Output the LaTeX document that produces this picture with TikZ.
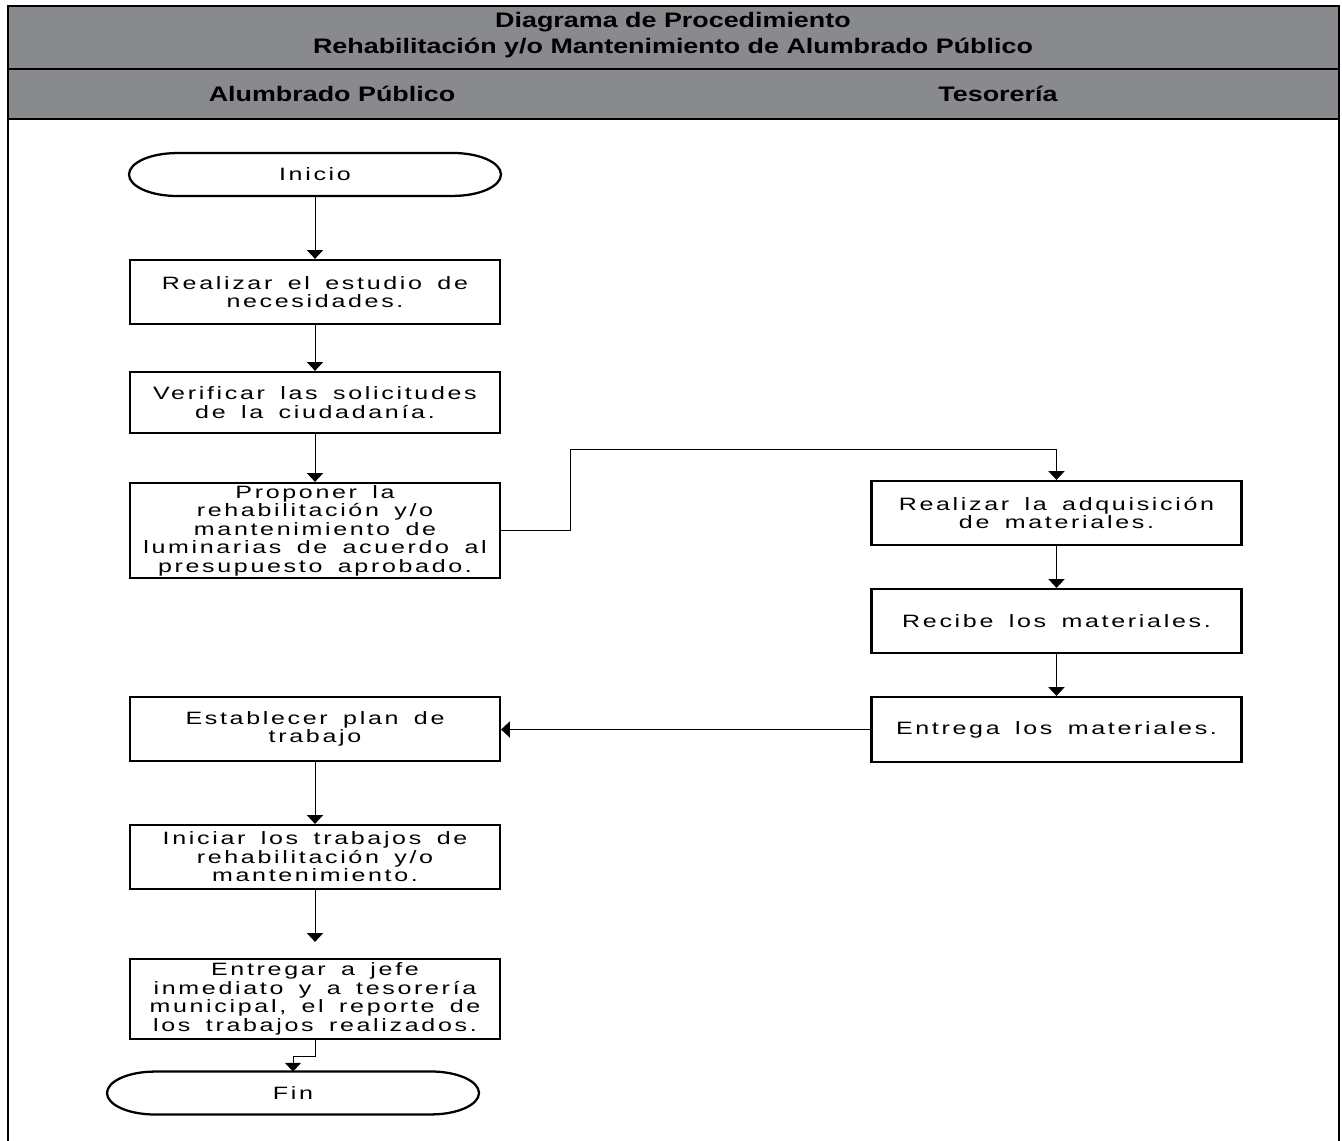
\documentclass[tikz,border=0pt]{standalone}
\usepackage{fontspec}
\setmainfont{Liberation Sans}
\newfontfamily\headfont[FakeStretch=1.28]{Liberation Sans}
\newfontfamily\boxfont[FakeStretch=1.4,LetterSpace=15,WordSpace=1.6]{Liberation Sans}
\usetikzlibrary{arrows.meta, positioning, calc}
\definecolor{headgray}{RGB}{137,138,141}

% start/end shape with flat sides and oval ends
\newcommand{\drawterminal}[1]{%
  \draw[line width=1.7pt] ($(#1.north west)+(36pt,0)$) -- ($(#1.north east)+(-36pt,0)$)
    arc[start angle=90, end angle=-90, x radius=36pt, y radius=16.1pt]
    -- ($(#1.south west)+(36pt,0)$)
    arc[start angle=270, end angle=90, x radius=36pt, y radius=16.1pt] -- cycle;}

\begin{document}
\begin{tikzpicture}[x=0.75pt, y=0.75pt,
  box/.style={draw, line width=1.7pt, minimum width=277.5pt, inner sep=0pt, align=center,
    font=\boxfont\fontsize{13.4}{13.9}\selectfont},
  terminal/.style={minimum width=279pt, minimum height=32.25pt, inner sep=0pt, outer sep=0pt,
    font=\boxfont\fontsize{13.4}{13.9}\selectfont},
  flow/.style={line width=0.75pt, -{Triangle[width=12pt,length=6.5pt]}},
  headtext/.style={font=\headfont\bfseries\fontsize{15.75}{19.5}\selectfont, align=center}]

  \useasboundingbox (0,0) rectangle (1342,-1141);

  % Header bands and frame
  \fill[headgray] (7.5,-6) rectangle (1339,-119);
  \draw[line width=1.5pt] (7.5,-1145) -- (7.5,-6) -- (1339,-6) -- (1339,-1145);
  \draw[line width=1.5pt] (7.5,-69) -- (1339,-69);
  \draw[line width=1.5pt] (7.5,-119) -- (1339,-119);
  \node[headtext] (title) at (673,-35) {Diagrama de Procedimiento\\Rehabilitación y/o Mantenimiento de Alumbrado Público};
  \node[headtext] (lane1) at (332,-94) {Alumbrado Público};
  \node[headtext] (lane2) at (998,-94) {Tesorería};

  % Alumbrado Publico
  \node[terminal] (inicio) at (315,-174.5) {Inicio};
  \drawterminal{inicio}
  \node[box, minimum height=48pt] (estudio) at (315,-292) {Realizar el estudio de\\necesidades.};
  \node[box, minimum height=45.75pt] (verificar) at (315,-402.5) {Verificar las solicitudes\\de la ciudadanía.};
  \node[box, minimum height=71.25pt] (proponer) at (315,-530.5) {Proponer la\\rehabilitación y/o\\mantenimiento de\\luminarias de acuerdo al\\presupuesto aprobado.};
  \node[box, minimum height=48pt] (plan) at (315,-729) {Establecer plan de\\trabajo};
  \node[box, minimum height=48pt] (iniciar) at (315,-857) {Iniciar los trabajos de\\rehabilitación y/o\\mantenimiento.};
  \node[box, minimum height=60pt] (reporte) at (315,-999) {Entregar a jefe\\inmediato y a tesorería\\municipal, el reporte de\\los trabajos realizados.};
  \node[terminal] (fin) at (293,-1093) {Fin};
  \drawterminal{fin}

  % Tesoreria
  \node[box, minimum height=48pt] (adquisicion) at (1056.5,-513) {Realizar la adquisición\\de materiales.};
  \node[box, minimum height=48pt] (recibe) at (1056.5,-621) {Recibe los materiales.};
  \node[box, minimum height=48.75pt] (entrega) at (1056.5,-729.5) {Entrega los materiales.};

  % Connectors
  \draw[flow] (inicio) -- (estudio);
  \draw[flow] (estudio) -- (verificar);
  \draw[flow] (verificar) -- (proponer);
  \draw[flow] (proponer.east) -- (570,-530.5) -- (570,-449) -| (adquisicion.north);
  \draw[flow] (adquisicion) -- (recibe);
  \draw[flow] (recibe) -- (entrega);
  \draw[flow] (entrega.west) -- (plan.east |- entrega.west);
  \draw[flow] (plan) -- (iniciar);
  \draw[flow, shorten >=12pt] (iniciar) -- (reporte);
  \draw[flow] (reporte.south) -- (315,-1056) -| (fin.north);
\end{tikzpicture}
\end{document}
